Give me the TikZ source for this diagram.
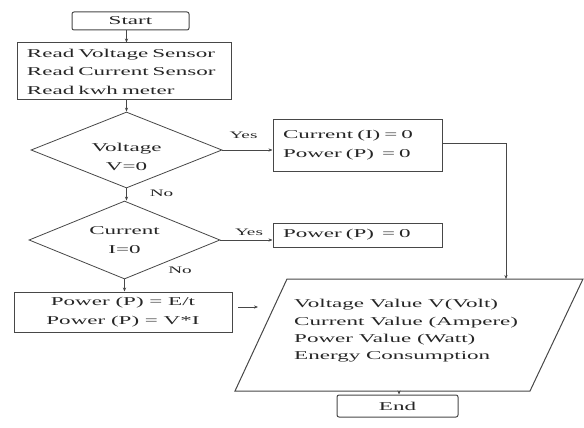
\documentclass[tikz,border=0pt]{standalone}
\usepackage{fontspec}
\setmainfont{Liberation Serif}[FakeStretch=1.92]
\usetikzlibrary{shapes.geometric,arrows.meta}
\tikzset{
  ln/.style={draw=black!72, line width=1pt},
  box/.style={ln, inner sep=0pt, text=black!85, font=\fontsize{12}{18.5}\selectfont},
  term/.style={box, rounded corners=2pt},
  lbox/.style={box, align=left, inner xsep=10pt},
  cbox/.style={box, align=center},
  dec/.style={ln, shape=diamond, inner sep=0pt, line width=0.8pt},
  txt/.style={text=black!85, font=\fontsize{12}{18.5}\selectfont, inner sep=0pt, align=center},
  lab/.style={text=black!85, font=\fontsize{10}{12}\selectfont, inner sep=0pt},
  arr/.style={draw=black!72, line width=0.6pt, -{Stealth[length=4pt,width=3.2pt]}},
}
\begin{document}
\begin{tikzpicture}[x=1pt,y=-1pt]
\useasboundingbox (0,0) rectangle (584,428);

% terminals and process boxes
\node[term, minimum width=117pt, minimum height=18pt] (start) at (130.5,21) {Start};
\node[lbox, minimum width=214pt, minimum height=57pt, text width=194pt] (read) at (124,71.5)
  {Read Voltage Sensor\\Read Current Sensor\\Read kwh meter};

% decisions
\node[dec, minimum width=191pt, minimum height=76pt] (v) at (126.5,150) {};
\node[txt] (vt) at (126.5,157) {Voltage\\V=0};
\node[dec, minimum width=191pt, minimum height=78pt] (c) at (124.5,240) {};
\node[txt] (ct) at (124.5,240) {Current\\I=0};

% right boxes
\node[lbox, minimum width=169pt, minimum height=52pt, text width=149pt] (cb) at (357.5,145)
  {Current (I) = 0\\Power (P) \ = 0};
\node[lbox, minimum width=169pt, minimum height=24pt, text width=149pt] (p0) at (357.5,235)
  {Power (P) \ = 0};

% power computation
\node[cbox, minimum width=218pt, minimum height=40pt] (pe) at (123,312)
  {Power (P) = E/t\\Power (P) = V*I};

% output parallelogram
\coordinate (tl) at (287,279);
\coordinate (tr) at (583,279);
\coordinate (br) at (530,391);
\coordinate (bl) at (235,391);
\draw[ln] (tl) -- (tr) -- (br) -- (bl) -- cycle;
\node[txt, align=left, anchor=west, font=\fontsize{12}{17.4}\selectfont] (out) at (294,331)
  {Voltage Value V(Volt)\\Current Value (Ampere)\\Power Value (Watt)\\Energy Consumption};
\coordinate (ptop) at (506,279);
\coordinate (pbot) at (399,391);

\node[term, minimum width=121pt, minimum height=22pt] (end) at (397.5,406) {End};

% connectors
\draw[arr] (v.north |- start.south) -- (v.north |- read.north);
\draw[arr] (v.north |- read.south) -- (v.north);
\draw[arr] (v.east) -- (v.east -| cb.west);
\node[lab] (y1) at (243.5,135) {Yes};
\draw[arr] (v.south) -- (v.south |- c.north);
\node[lab] (n1) at (161.5,193) {No};
\draw[arr] (c.east) -- (c.east -| p0.west);
\node[lab] (y2) at (249,232) {Yes};
\draw[arr] (c.south) -- (c.south |- pe.north);
\node[lab] (n2) at (180,270) {No};
\coordinate (a1) at (238,307);
\coordinate (a2) at (258,307);
\draw[arr] (a1) -- (a2);
\draw[arr] (cb.east |- 0,143) -| (ptop);
\draw[arr] (pbot) -- (pbot |- end.north);
\end{tikzpicture}
\end{document}
